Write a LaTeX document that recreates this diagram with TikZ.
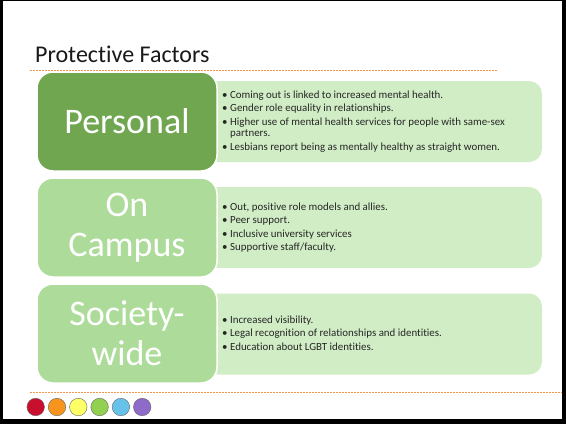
\documentclass[tikz,border=0pt]{standalone}
\usepackage{fontspec}
\setmainfont[Ligatures=NoCommon]{Carlito}
\definecolor{darkg}{HTML}{70A650}
\definecolor{midg}{HTML}{ADDC9A}
\definecolor{paleg}{HTML}{D0EDC5}
\definecolor{dotor}{HTML}{F79646}
\definecolor{c1}{HTML}{C8102E}
\definecolor{c2}{HTML}{F7941D}
\definecolor{c3}{HTML}{FFFF66}
\definecolor{c4}{HTML}{92D050}
\definecolor{c5}{HTML}{66C2E8}
\definecolor{c6}{HTML}{8E6BC8}
\tikzset{
  catbox/.style={rectangle, rounded corners=16pt, draw=white, line width=1.5pt,
    minimum width=180pt, minimum height=99pt, text=white, align=center,
    font=\fontsize{36}{40}\selectfont, inner sep=0pt},
  infobox/.style={rectangle, rounded corners=13pt, fill=paleg, draw=none,
    minimum width=337pt, minimum height=81pt},
  bullets/.style={anchor=west, align=left, inner sep=0pt, text=black!85,
    font=\fontsize{10.9}{11.5}\selectfont},
  dotline/.style={draw=dotor, line width=1pt, dash pattern=on 1.5pt off 1.5pt},
  dot/.style={circle, draw=black!60, line width=0.4pt, minimum size=17.5pt, inner sep=0pt}
}
\newcommand{\bl}{\textbullet\hspace{2.5pt}}
\newcommand{\bi}{\hphantom{\textbullet\hspace{2.5pt}}}
\begin{document}
\begin{tikzpicture}[x=1pt,y=-1pt]
\useasboundingbox (0,0) rectangle (566,424);
\fill[black] (0,0) rectangle (566,424);
\fill[white] (3,1) rectangle (562,419);

\node[anchor=base west, inner sep=0pt, font=\fontsize{24}{28}\selectfont, text=black!90] (title) at (35,62) {Protective Factors};
\draw[dotline] (30,70.5) -- (497,70.5);

% right info boxes
\node[infobox] (i1) at (373.5,121.5) {};
\node[infobox] (i2) at (373.5,227.5) {};
\node[infobox] (i3) at (373.5,334) {};

% left category boxes
\node[catbox, fill=darkg] (p) at (127,121.5) {Personal};
\node[catbox, fill=midg] (c) at (127,227.5) {On\\Campus};
\node[catbox, fill=midg] (s) at (127,333.5) {Society-\\wide};

\node[bullets] (t1) at (222,121.5) {\bl Coming out is linked to increased mental health.\\[2pt]
\bl Gender role equality in relationships.\\[2pt]
\bl Higher use of mental health services for people with same-sex\\
\bi partners.\\[2pt]
\bl Lesbians report being as mentally healthy as straight women.};

\node[bullets] (t2) at (222,227.5) {\bl Out, positive role models and allies.\\[2pt]
\bl Peer support.\\[2pt]
\bl Inclusive university services\\[2pt]
\bl Supportive staff/faculty.};

\node[bullets] (t3) at (222,333) {\bl Increased visibility.\\[2pt]
\bl Legal recognition of relationships and identities.\\[2pt]
\bl Education about LGBT identities.};

\draw[dotline] (30,392) -- (562,392);

\node[dot, fill=c1] (d1) at (35.7,407) {};
\node[dot, fill=c2] (d2) at (57,407) {};
\node[dot, fill=c3] (d3) at (78.3,407) {};
\node[dot, fill=c4] (d4) at (99.6,407) {};
\node[dot, fill=c5] (d5) at (120.9,407) {};
\node[dot, fill=c6] (d6) at (142.2,407) {};
\end{tikzpicture}
\end{document}
